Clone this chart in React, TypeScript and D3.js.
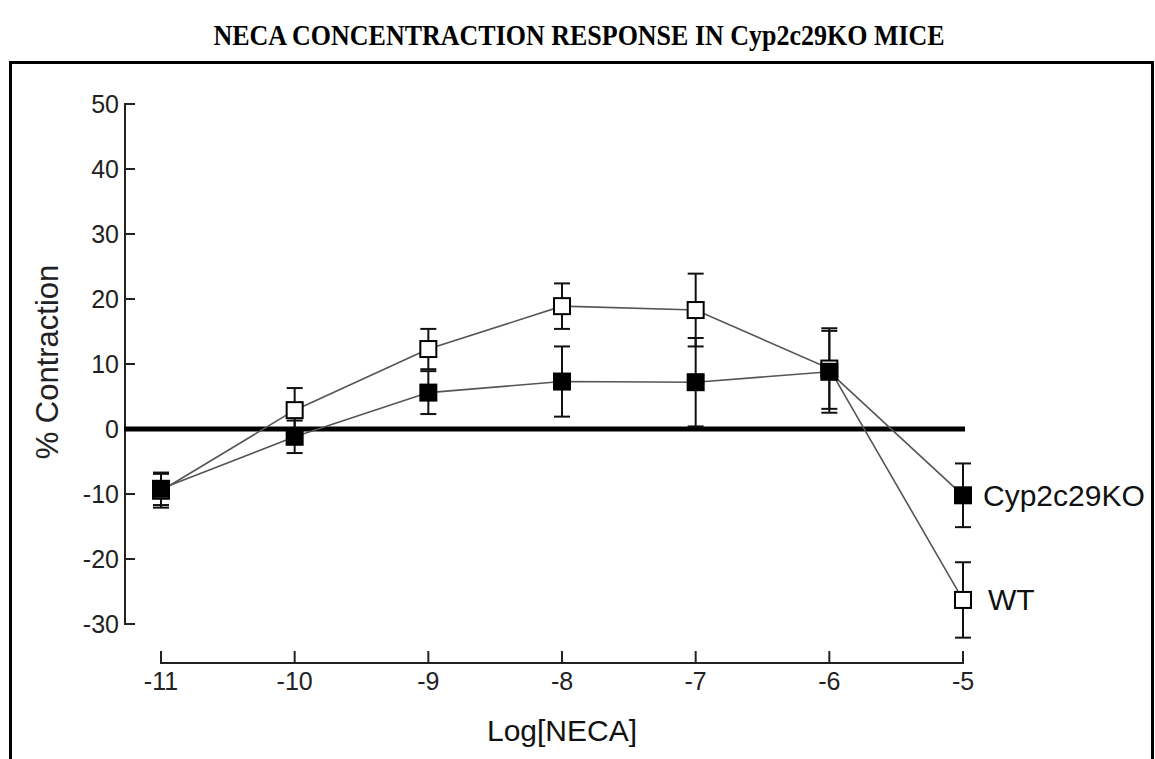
import React from "react";
import * as d3 from "d3";

const title = "NECA CONCENTRACTION RESPONSE IN Cyp2c29KO MICE";
const xLabel = "Log[NECA]";
const yLabel = "% Contraction";
const logNeca = [-11, -10, -9, -8, -7, -6, -5];
const xTicks = [-11, -10, -9, -8, -7, -6, -5];
const yTicks = [50, 40, 30, 20, 10, 0, -10, -20, -30];
const wtMean = [-9.5, 2.9, 12.3, 18.9, 18.3, 9.3, -26.3];
const wtErr = [2.6, 3.4, 3.1, 3.5, 5.6, 6.2, 5.8];
const koMean = [-9.2, -1.2, 5.6, 7.3, 7.2, 8.8, -10.2];
const koErr = [2.5, 2.5, 3.3, 5.4, 6.8, 6.3, 4.9];
const seriesNames = ["Cyp2c29KO", "WT"];

const W = 1155;
const H = 759;

export default function App() {
  const x = d3.scaleLinear().domain([-11, -5]).range([161, 963]);
  const y = d3.scaleLinear().domain([-30, 50]).range([624, 104]);
  const line = d3
    .line<[number, number]>()
    .x((d) => x(d[0]))
    .y((d) => y(d[1]));

  const series = [
    { name: seriesNames[1], mean: wtMean, err: wtErr, fill: "#fff", labelDx: 25 },
    { name: seriesNames[0], mean: koMean, err: koErr, fill: "#000", labelDx: 20 },
  ];
  const sq = 16;
  const cap = 8;
  const sans = "'Liberation Sans', Arial, sans-serif";

  return (
    <svg
      width={W}
      height={H}
      style={{ position: "absolute", left: 0, top: 0, background: "#fff" }}
    >
      <text
        transform="translate(579,45) scale(1,1.15)"
        textAnchor="middle"
        fontFamily="'Liberation Serif', 'Times New Roman', serif"
        fontWeight="bold"
        fontSize={26}
        fill="#000"
      >
        {title}
      </text>
      {/* frame */}
      <path d={`M10.5,${H + 5} V62.5 H1152.5 V${H + 5}`} fill="none" stroke="#000" strokeWidth={3} />

      {/* y axis */}
      <line x1={125} x2={125} y1={y(50)} y2={y(-30)} stroke="#222" strokeWidth={2} />
      {yTicks.map((t) => (
        <g key={"yt" + t}>
          <line x1={124} x2={135} y1={y(t)} y2={y(t)} stroke="#222" strokeWidth={2} />
          <text
            x={119}
            y={y(t)}
            dy="0.35em"
            textAnchor="end"
            fontFamily={sans}
            fontSize={25}
            fill="#222"
          >
            {t}
          </text>
        </g>
      ))}
      <text
        transform={`translate(58,362) rotate(-90)`}
        textAnchor="middle"
        fontFamily={sans}
        fontSize={31}
        fill="#222"
      >
        {yLabel}
      </text>

      {/* x axis */}
      <line x1={x(-11)} x2={x(-5)} y1={663} y2={663} stroke="#222" strokeWidth={2} />
      {xTicks.map((t) => (
        <g key={"xt" + t}>
          <line x1={x(t)} x2={x(t)} y1={651} y2={664} stroke="#222" strokeWidth={2} />
          <text
            x={x(t)}
            y={681}
            dy="0.35em"
            textAnchor="middle"
            fontFamily={sans}
            fontSize={25}
            fill="#222"
          >
            {t}
          </text>
        </g>
      ))}
      <text x={x(-8)} y={741} textAnchor="middle" fontFamily={sans} fontSize={30} fill="#111">
        {xLabel}
      </text>

      {/* zero line */}
      <line x1={124} x2={965} y1={y(0)} y2={y(0)} stroke="#000" strokeWidth={5} />

      {/* connecting lines */}
      {series.map((s) => (
        <path
          key={"l" + s.name}
          d={line(logNeca.map((v, i) => [v, s.mean[i]]) as [number, number][]) || ""}
          fill="none"
          stroke="#555"
          strokeWidth={1.6}
        />
      ))}

      {/* error bars */}
      {series.map((s) =>
        logNeca.map((v, i) => {
          const cx = x(v);
          const top = y(s.mean[i] + s.err[i]);
          const bot = y(s.mean[i] - s.err[i]);
          return (
            <g key={"e" + s.name + i} stroke="#111" strokeWidth={2}>
              <line x1={cx} x2={cx} y1={top} y2={bot} />
              <line x1={cx - cap} x2={cx + cap} y1={top} y2={top} />
              <line x1={cx - cap} x2={cx + cap} y1={bot} y2={bot} />
            </g>
          );
        })
      )}

      {/* markers */}
      {series.map((s) =>
        logNeca.map((v, i) => (
          <rect
            key={"m" + s.name + i}
            x={x(v) - sq / 2}
            y={y(s.mean[i]) - sq / 2}
            width={sq}
            height={sq}
            fill={s.fill}
            stroke="#000"
            strokeWidth={2}
          />
        ))
      )}

      {/* series labels */}
      {series.map((s) => (
        <text
          key={"lab" + s.name}
          x={x(-5) + s.labelDx}
          y={y(s.mean[s.mean.length - 1])}
          dy="0.35em"
          fontFamily={sans}
          fontSize={30}
          fill="#111"
        >
          {s.name}
        </text>
      ))}
    </svg>
  );
}
